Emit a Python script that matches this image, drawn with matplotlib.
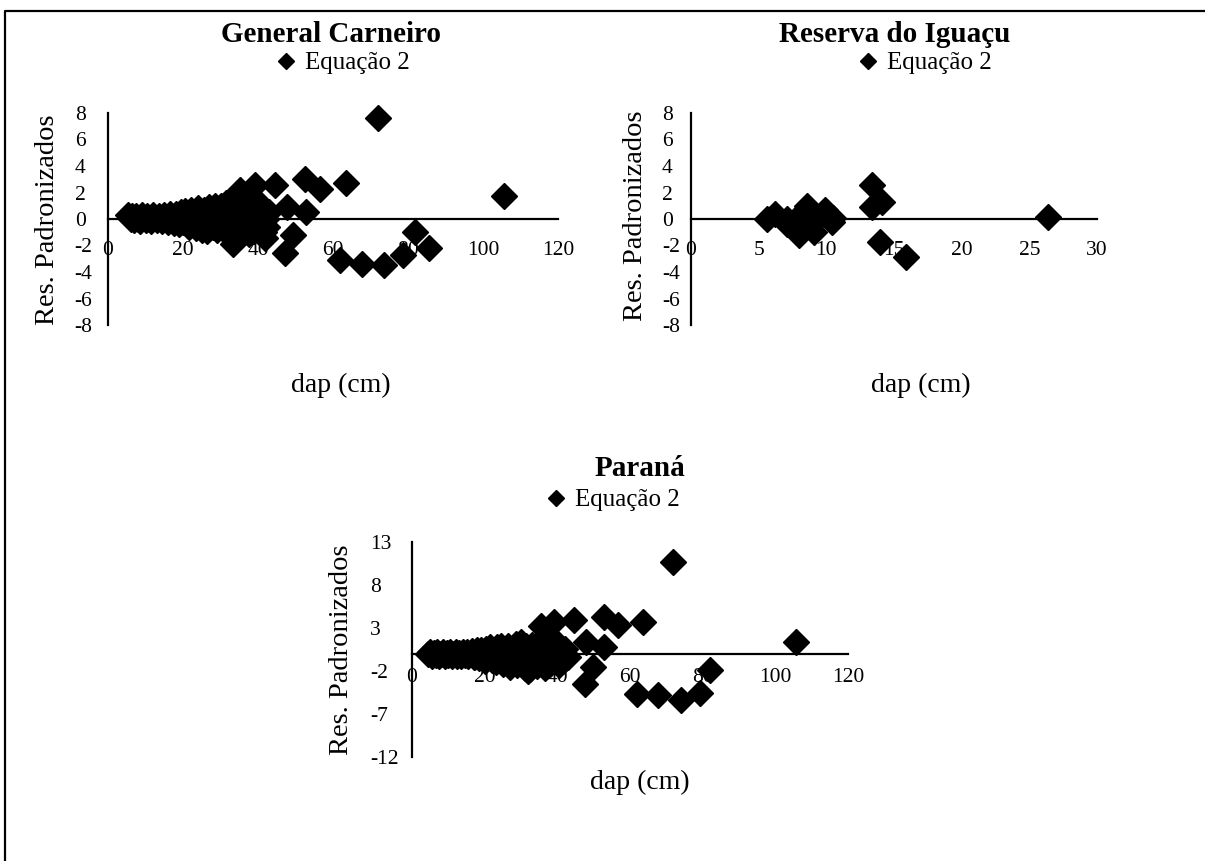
import matplotlib
matplotlib.use("Agg")
import matplotlib.pyplot as plt
from matplotlib.lines import Line2D

plt.rcParams['font.family'] = ['Liberation Serif', 'DejaVu Serif']
plt.rcParams['axes.unicode_minus'] = False

# General Carneiro - residuos padronizados (Equacao 2)
gc_dap = [5.3, 6.0, 6.5, 7.0, 7.5, 8.0, 8.5, 9.0, 9.5, 10.0, 10.5, 11.0, 11.5, 12.0, 12.5,
          13.0, 13.5, 14.0, 14.5, 15.0, 15.5, 16.0, 16.5, 17.0, 17.5, 18.0, 18.5, 19.0,
          19.5, 20.0, 20.5, 21.0, 21.5, 22.0, 22.5, 23.0, 23.5, 24.0, 24.5, 25.0, 25.5,
          26.0, 26.5, 27.0, 27.5, 28.0, 28.5, 29.0, 29.5, 30.0, 30.5, 31.0, 31.5, 32.0,
          32.5, 33.0, 33.5, 34.0, 34.5, 35.0, 35.5, 36.0, 36.5, 37.0, 37.5, 38.0, 38.5,
          39.0, 39.5, 40.0, 40.5, 41.0, 41.5, 42.0, 42.5, 43.0,
          72.0, 105.6, 63.4, 52.4, 56.4, 44.4, 39.1, 35.1, 47.6, 52.9, 49.3, 47.1,
          81.8, 85.6, 78.7, 61.8, 67.6, 73.5, 41.8, 33.3]
gc_res = [0.3, 0.0, 0.2, -0.1, 0.25, 0.0, -0.15, 0.3, 0.1, -0.1, 0.25, 0.0, -0.15, 0.3, 0.1,
          -0.1, 0.2, 0.0, -0.15, 0.3, 0.1, -0.2, 0.35, 0.0, -0.3, 0.4, 0.1, -0.4,
          0.5, -0.2, 0.6, 0.1, -0.6, 0.7, -0.3, 0.4, -0.7, 0.8, 0.0, -0.8, 0.7,
          -0.4, -0.9, 0.9, 0.2, -0.6, 1.0, -0.8, 0.4, 1.0, -0.7, 0.1, 1.2, -1.0,
          0.6, -0.3, -1.5, 0.8, -0.8, 0.3, -1.0, 1.2, -0.4, 0.5, -1.1, 0.9, 0.0,
          -0.9, 1.4, 0.3, -0.6, 0.8, -1.0, 0.0, -0.6, 0.5,
          7.6, 1.7, 2.7, 3.0, 2.3, 2.6, 2.6, 2.2, 0.9, 0.5, -1.2, -2.6,
          -1.0, -2.2, -2.7, -3.1, -3.4, -3.5, -1.4, -1.9]

# Reserva do Iguacu
ri_dap = [5.6, 6.2, 7.1, 7.1, 7.7, 7.95, 8.1, 8.3, 8.6, 9.1, 9.3, 9.9, 10.4, 10.5,
          13.4, 13.4, 14.1, 14.0, 15.9, 26.4]
ri_res = [0.0, 0.4, 0.0, -0.4, -0.3, -1.2, 0.4, -0.25, 1.0, -1.0, 0.0, 0.65, -0.25, 0.1,
          2.6, 0.9, 1.3, -1.7, -2.85, 0.13]

# Parana
pr_dap = [4.5, 5.0, 5.5, 6.0, 6.5, 7.0, 7.5, 8.0, 8.5, 9.0, 9.5, 10.0, 10.5, 11.0, 11.5,
          12.0, 12.5, 13.0, 13.5, 14.0, 14.5, 15.0, 15.5, 16.0, 16.5, 17.0, 17.5, 18.0,
          18.5, 19.0, 19.5, 20.0, 20.5, 21.0, 21.5, 22.0, 22.5, 23.0, 23.5, 24.0, 24.5,
          25.0, 25.5, 26.0, 26.5, 27.0, 27.5, 28.0, 28.5, 29.0, 29.5, 30.0, 30.5, 31.0,
          31.5, 32.0, 32.5, 33.0, 33.5, 34.0, 34.5, 35.0, 35.5, 36.0, 36.5, 37.0, 37.5,
          38.0, 38.5, 39.0, 39.5, 40.0, 40.5, 41.0, 41.5, 42.0, 43.0,
          71.8, 105.8, 63.5, 52.8, 56.7, 44.7, 39.2, 35.4, 47.9, 52.9, 49.8, 47.5,
          81.9, 79.2, 62.0, 67.7, 74.1, 32.0]
pr_res = [0.0, 0.2, -0.2, 0.1, -0.1, 0.2, -0.2, 0.0, 0.2, -0.2, 0.1, -0.1, 0.2, -0.25, 0.0,
          0.2, -0.2, 0.1, -0.3, 0.2, -0.1, 0.25, -0.3, 0.0, 0.3, -0.4, 0.1, 0.4,
          -0.5, 0.5, -0.1, -0.8, 0.6, 0.0, 0.75, -0.7, 0.3, -1.0, 0.8, -0.3, 0.9,
          -1.2, 0.4, -0.6, 0.95, -1.55, 0.2, -0.9, 1.1, -1.3, 0.5, 1.35, -0.5, -1.6,
          0.9, -0.2, -1.8, 1.0, -1.0, 0.3, -1.4, 1.2, -0.6, 0.6, -1.6, 1.4, 0.0,
          -1.2, 1.8, 0.4, -0.8, 1.0, -1.3, 0.0, -0.8, 0.6, -0.4,
          10.7, 1.36, 3.7, 4.3, 3.3, 3.9, 3.7, 3.2, 1.36, 0.8, -1.55, -3.5,
          -1.86, -4.5, -4.65, -4.8, -5.4, -2.0]

W, H = 1205, 861
fig = plt.figure(figsize=(W / 100, H / 100), dpi=100)
fig.patch.set_facecolor('white')


def fx(x):
    return x / W


def fy(y):
    return 1 - y / H


def panel(rect, dap, res, xticks, yticks, xpad, ypad, title, tpos, lpos, ylpos, xlpos):
    ax = fig.add_axes(rect)
    line, = ax.plot(dap, res, linestyle='none', marker='D', markersize=13.3,
                    color='black', zorder=3, clip_on=False)
    ax.set_xlim(xticks[0], xticks[-1])
    ax.set_ylim(yticks[0], yticks[-1])
    ax.set_xticks(xticks)
    ax.set_yticks(yticks)
    ax.spines['top'].set_visible(False)
    ax.spines['right'].set_visible(False)
    ax.spines['bottom'].set_position(('data', 0))
    for s in ['left', 'bottom']:
        ax.spines[s].set_linewidth(1.6)
    ax.tick_params(axis='both', length=0, labelsize=15.5)
    ax.tick_params(axis='x', pad=xpad)
    ax.tick_params(axis='y', pad=ypad)
    for lab in ax.get_yticklabels():
        lab.set_horizontalalignment('left')
    ax.patch.set_alpha(0)
    fig.text(fx(tpos[0]), fy(tpos[1]), title, ha='center', va='baseline',
             fontsize=21, fontweight='bold')
    fig.text(fx(ylpos[0]), fy(ylpos[1]), 'Res. Padronizados', rotation=90,
             ha='center', va='center', fontsize=20.5)
    fig.text(fx(xlpos[0]), fy(xlpos[1]), 'dap (cm)', ha='center', va='center',
             fontsize=20)
    ax.legend([line], ['Equação 2'], loc='center left',
              bbox_to_anchor=(fx(lpos[0]), fy(lpos[1])), bbox_transform=fig.transFigure,
              frameon=False, fontsize=18, markerscale=0.62, handlelength=0.9,
              handletextpad=0.3, borderpad=0, borderaxespad=0)
    return ax


panel([fx(108), fy(325), 450 / W, 212 / H], gc_dap, gc_res,
      list(range(0, 121, 20)), list(range(-8, 9, 2)), 16, 24,
      'General Carneiro', (331, 42), (275, 63), (48, 220), (341, 385))
panel([fx(691), fy(325), 406 / W, 212 / H], gc_dap[:0] + ri_dap, ri_res,
      list(range(0, 31, 5)), list(range(-8, 9, 2)), 16, 21,
      'Reserva do Iguaçu', (895, 42), (857, 63), (635, 216), (921, 385))
panel([fx(412), fy(757), 436 / W, 215 / H], pr_dap, pr_res,
      list(range(0, 121, 20)), list(range(-12, 14, 5)), 10, 30,
      'Paraná', (640, 476), (545, 500), (342, 650), (640, 782))

# moldura (linhas superior e esquerda)
fig.add_artist(Line2D([fx(5), fx(5), 1], [0, fy(11), fy(11)], transform=fig.transFigure,
                      color='black', linewidth=1.6))

fig.savefig('out.png', dpi=100)
